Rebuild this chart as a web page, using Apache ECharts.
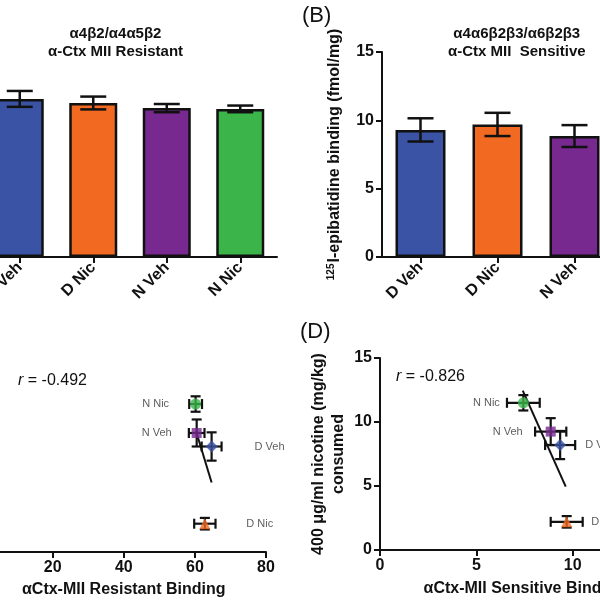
<!DOCTYPE html>
<html>
<head>
<meta charset="utf-8">
<script src="https://cdn.jsdelivr.net/npm/echarts@6/dist/echarts.min.js"></script>
<style>
  html, body { margin: 0; padding: 0; background: #fff; overflow: hidden; width: 600px; height: 600px; }
  /* the figure is wider than the window, shift it left so it is cropped like the source */
  #main { position: absolute; left: -150px; top: 0; width: 900px; height: 600px; }
</style>
</head>
<body>
<div id="main"></div>
<script>
// groups, same order everywhere
const groups = ['D Veh', 'D Nic', 'N Veh', 'N Nic'];

// (A) resistant binding bars, fmol/mg
const resistantBinding = [61.7, 60.1, 58.1, 57.8];
const resistantSem = [3.1, 2.5, 1.6, 1.3];

// (B) sensitive binding bars, fmol/mg
const sensitiveBinding = [9.3, 9.7, 8.85, 7.4];
const sensitiveSem = [0.85, 0.85, 0.8, 0.8];

// (C)/(D) binding vs nicotine consumed
const resistantX = [64.7, 62.8, 60.5, 60.2];
const resistantXErr = [2.8, 3.0, 2.2, 1.8];
const sensitiveX = [9.35, 9.69, 8.86, 7.44];
const sensitiveXErr = [0.78, 0.83, 0.81, 0.85];
const nicotineConsumed = [8.2, 2.2, 9.25, 11.5];
const nicotineSem = [1.1, 0.45, 1.05, 0.6];

// regression lines
const fitResistant = [[60.3, 9.4], [64.7, 5.4]];
const fitSensitive = [[7.41, 12.45], [9.64, 4.95]];
const rResistant = '-0.492';
const rSensitive = '-0.826';

const colors = ['#3A53A4', '#F26A21', '#77298F', '#3BB54A'];
const symbols = ['diamond', 'triangle', 'rect', 'circle'];
const symbolSizes = [12, 11, 10, 11];
const FONT = "'Liberation Sans', Arial, sans-serif";
const INK = '#111';

var chart = echarts.init(document.getElementById('main'));

function axisLine() {
  return { show: true, lineStyle: { color: INK, width: 2 } };
}
function axisTick() {
  return { show: true, inside: false, length: 6, lineStyle: { color: INK, width: 2 } };
}
function tickLabel(extra) {
  return Object.assign({ color: INK, fontFamily: FONT, fontWeight: 'bold', fontSize: 16 }, extra || {});
}

// error bar on a bar chart
function barErr(params, api) {
  var i = api.value(0), m = api.value(1), s = api.value(2);
  var top = api.coord([i, m + s]);
  var bot = api.coord([i, m - s]);
  var w = 13;
  var st = { stroke: INK, lineWidth: 2.5 };
  return {
    type: 'group',
    children: [
      { type: 'line', shape: { x1: top[0], y1: top[1], x2: bot[0], y2: bot[1] }, style: st },
      { type: 'line', shape: { x1: top[0] - w, y1: top[1], x2: top[0] + w, y2: top[1] }, style: st },
      { type: 'line', shape: { x1: bot[0] - w, y1: bot[1], x2: bot[0] + w, y2: bot[1] }, style: st }
    ]
  };
}

// x and y error bars for the scatter panels
function xyErr(params, api) {
  var x = api.value(0), y = api.value(1), ex = api.value(2), ey = api.value(3);
  var l = api.coord([x - ex, y]), r = api.coord([x + ex, y]);
  var t = api.coord([x, y + ey]), b = api.coord([x, y - ey]);
  var c = 5;
  var st = { stroke: INK, lineWidth: 2.2 };
  return {
    type: 'group',
    children: [
      { type: 'line', shape: { x1: l[0], y1: l[1], x2: r[0], y2: r[1] }, style: st },
      { type: 'line', shape: { x1: l[0], y1: l[1] - c, x2: l[0], y2: l[1] + c }, style: st },
      { type: 'line', shape: { x1: r[0], y1: r[1] - c, x2: r[0], y2: r[1] + c }, style: st },
      { type: 'line', shape: { x1: t[0], y1: t[1], x2: b[0], y2: b[1] }, style: st },
      { type: 'line', shape: { x1: t[0] - c, y1: t[1], x2: t[0] + c, y2: t[1] }, style: st },
      { type: 'line', shape: { x1: b[0] - c, y1: b[1], x2: b[0] + c, y2: b[1] }, style: st }
    ]
  };
}

function barData(vals) {
  return vals.map(function (v, i) {
    return { value: v, itemStyle: { color: colors[i] } };
  });
}
function barErrData(vals, sem) {
  return vals.map(function (v, i) { return [i, v, sem[i]]; });
}
function pointData(xs, sides, gaps) {
  return xs.map(function (x, i) {
    return {
      name: groups[i],
      value: [x, nicotineConsumed[i]],
      symbol: symbols[i],
      symbolSize: symbolSizes[i],
      itemStyle: { color: colors[i] },
      label: { position: sides[i], distance: gaps[i] }
    };
  });
}
function errData(xs, xe) {
  return xs.map(function (x, i) { return [x, nicotineConsumed[i], xe[i], nicotineSem[i]]; });
}

var pointLabel = {
  show: true, formatter: '{b}', color: '#333', fontFamily: FONT, fontSize: 11
};
var supStyle = { fontSize: 10, fontWeight: 'bold', fontFamily: FONT, color: INK, verticalAlign: 'top', padding: [0, 1, 8, 0] };

var option = {
  backgroundColor: '#fff',
  animation: false,
  textStyle: { fontFamily: FONT },
  grid: [
    { left: 133, top: 52, width: 294, height: 205 },
    { left: 532, top: 52, width: 308, height: 205 },
    { left: 131.6, top: 359, width: 284.4, height: 193 },
    { left: 530, top: 358, width: 289, height: 192 }
  ],
  xAxis: [
    {
      type: 'category', gridIndex: 0, data: groups,
      axisLine: axisLine(), axisTick: Object.assign(axisTick(), { alignWithLabel: true }),
      axisLabel: tickLabel({ rotate: 45, margin: 8 })
    },
    {
      type: 'category', gridIndex: 1, data: groups,
      axisLine: axisLine(), axisTick: Object.assign(axisTick(), { alignWithLabel: true }),
      axisLabel: tickLabel({ rotate: 45, margin: 8 })
    },
    {
      type: 'value', gridIndex: 2, min: 0, max: 80, interval: 20,
      axisLine: axisLine(), axisTick: axisTick(), splitLine: { show: false },
      axisLabel: tickLabel({ margin: 8 }),
      name: 'αCtx-MII Resistant Binding', nameLocation: 'middle', nameGap: 30,
      nameTextStyle: tickLabel()
    },
    {
      type: 'value', gridIndex: 3, min: 0, max: 15, interval: 5,
      axisLine: axisLine(), axisTick: axisTick(), splitLine: { show: false },
      axisLabel: tickLabel({ margin: 8 }),
      name: 'αCtx-MII Sensitive Binding', nameLocation: 'middle', nameGap: 31,
      nameTextStyle: tickLabel()
    }
  ],
  yAxis: [
    {
      type: 'value', gridIndex: 0, min: 0, max: 80, interval: 20,
      axisLine: axisLine(), axisTick: axisTick(), splitLine: { show: false },
      axisLabel: tickLabel({ margin: 8 }),
      name: '{sup|125}I-epibatidine binding (fmol/mg)', nameLocation: 'middle', nameGap: 40,
      nameTextStyle: tickLabel({ rich: { sup: supStyle } })
    },
    {
      type: 'value', gridIndex: 1, min: 0, max: 15, interval: 5,
      axisLine: axisLine(), axisTick: axisTick(), splitLine: { show: false },
      axisLabel: tickLabel({ margin: 8 }),
      name: '{sup|125}I-epibatidine binding (fmol/mg)', nameLocation: 'middle', nameGap: 38,
      nameTextStyle: tickLabel({ rich: { sup: supStyle } })
    },
    {
      type: 'value', gridIndex: 2, min: 0, max: 15, interval: 5,
      axisLine: axisLine(), axisTick: axisTick(), splitLine: { show: false },
      axisLabel: tickLabel({ margin: 8 }),
      name: '400 μg/ml nicotine (mg/kg)\nconsumed', nameLocation: 'middle', nameGap: 31,
      nameTextStyle: tickLabel({ lineHeight: 20 })
    },
    {
      type: 'value', gridIndex: 3, min: 0, max: 15, interval: 5,
      axisLine: axisLine(), axisTick: axisTick(), splitLine: { show: false },
      axisLabel: tickLabel({ margin: 8 }),
      name: '400 μg/ml nicotine (mg/kg)\nconsumed', nameLocation: 'middle', nameGap: 31,
      nameTextStyle: tickLabel({ lineHeight: 20 })
    }
  ],
  graphic: [
    { type: 'text', left: 198, top: 25, style: { text: 'α4β2/α4α5β2\nα-Ctx MII Resistant', font: 'bold 15px ' + FONT, fill: INK, textAlign: 'center', align: 'center', lineHeight: 18 } },
    { type: 'text', left: 598, top: 25, style: { text: 'α4α6β2β3/α6β2β3\nα-Ctx MII  Sensitive', font: 'bold 15px ' + FONT, fill: INK, textAlign: 'center', align: 'center', lineHeight: 18 } },
    { type: 'text', left: 452, top: 5, style: { text: '(B)', font: '22px ' + FONT, fill: INK } },
    { type: 'text', left: 50, top: 5, style: { text: '(A)', font: '22px ' + FONT, fill: INK } },
    { type: 'text', left: 450, top: 321, style: { text: '(D)', font: '22px ' + FONT, fill: INK } },
    { type: 'text', left: 50, top: 321, style: { text: '(C)', font: '22px ' + FONT, fill: INK } },
    { type: 'text', left: 168, top: 373, style: { text: '{i|r} = ' + rResistant, font: '16px ' + FONT, fill: INK, rich: { i: { fontStyle: 'italic', fontSize: 16, fontFamily: FONT, fill: INK } } } },
    { type: 'text', left: 546, top: 369, style: { text: '{i|r} = ' + rSensitive, font: '16px ' + FONT, fill: INK, rich: { i: { fontStyle: 'italic', fontSize: 16, fontFamily: FONT, fill: INK } } } }
  ],
  series: [
    {
      type: 'bar', xAxisIndex: 0, yAxisIndex: 0, barWidth: 48,
      data: barData(resistantBinding),
      itemStyle: { borderColor: INK, borderWidth: 2.5 }
    },
    {
      type: 'custom', xAxisIndex: 0, yAxisIndex: 0, z: 5,
      renderItem: barErr, data: barErrData(resistantBinding, resistantSem)
    },
    {
      type: 'bar', xAxisIndex: 1, yAxisIndex: 1, barWidth: 50,
      data: barData(sensitiveBinding),
      itemStyle: { borderColor: INK, borderWidth: 2.5 }
    },
    {
      type: 'custom', xAxisIndex: 1, yAxisIndex: 1, z: 5,
      renderItem: barErr, data: barErrData(sensitiveBinding, sensitiveSem)
    },
    // (C)
    {
      type: 'line', xAxisIndex: 2, yAxisIndex: 2, data: fitResistant,
      symbol: 'none', lineStyle: { color: INK, width: 2 }, z: 3
    },
    {
      type: 'custom', xAxisIndex: 2, yAxisIndex: 2, z: 4,
      renderItem: xyErr, data: errData(resistantX, resistantXErr)
    },
    {
      type: 'scatter', xAxisIndex: 2, yAxisIndex: 2, z: 5,
      label: pointLabel,
      data: pointData(resistantX, ['right', 'right', 'left', 'left'], [37, 36, 20, 21])
    },
    // (D)
    {
      type: 'line', xAxisIndex: 3, yAxisIndex: 3, data: fitSensitive,
      symbol: 'none', lineStyle: { color: INK, width: 2 }, z: 3
    },
    {
      type: 'custom', xAxisIndex: 3, yAxisIndex: 3, z: 4,
      renderItem: xyErr, data: errData(sensitiveX, sensitiveXErr)
    },
    {
      type: 'scatter', xAxisIndex: 3, yAxisIndex: 3, z: 5,
      label: pointLabel,
      data: pointData(sensitiveX, ['right', 'right', 'left', 'left'], [19, 19, 23, 18])
    }
  ]
};

chart.setOption(option);
</script>
</body>
</html>
